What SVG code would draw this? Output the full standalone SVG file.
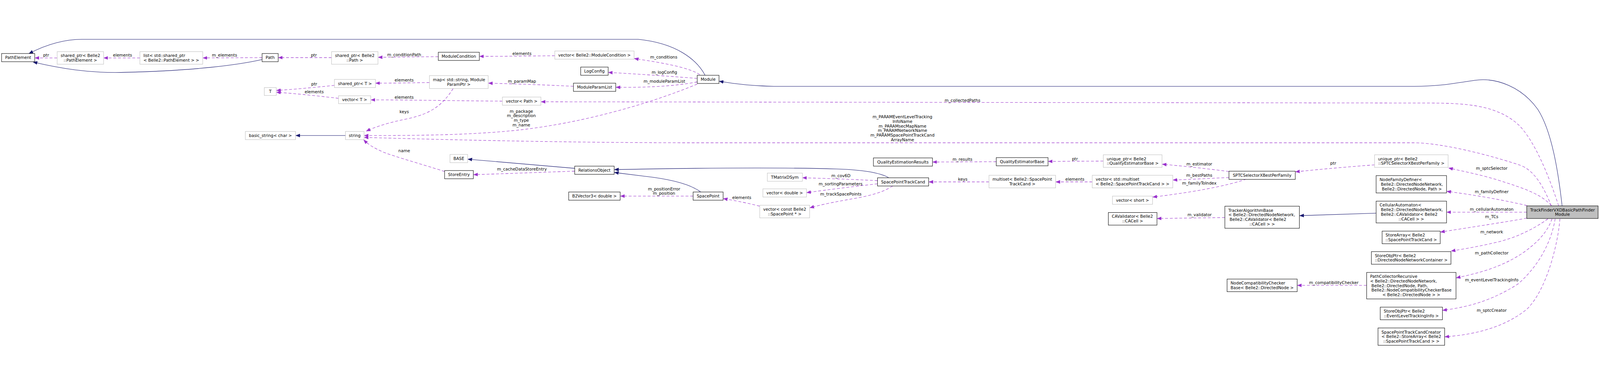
<svg xmlns="http://www.w3.org/2000/svg" width="5067" height="984" viewBox="0 0 5067 984" style="width:100vw;height:100vh;display:block">
<style>
text{font-family:"DejaVu Sans","Liberation Sans",sans-serif;font-size:13px;fill:#000}
.c{text-anchor:middle}
.s{text-anchor:start}
.nb{fill:#fff;stroke:#000;stroke-width:1.3}
.ng{fill:#fff;stroke:#bfbfbf;stroke-width:1.3}
.nt{fill:#bfbfbf;stroke:#000;stroke-width:1.3}
.ei{fill:none;stroke:#191970;stroke-width:1.3}
.eu{fill:none;stroke:#9a32cd;stroke-width:1.3;stroke-dasharray:9,6}
</style>
<defs>
<marker id="ai" markerUnits="userSpaceOnUse" markerWidth="14" markerHeight="12" viewBox="0 0 14 12" refX="13" refY="6" orient="auto"><path d="M0,1 L13,6 L0,11 z" fill="#191970" stroke="#191970" stroke-width="1"/></marker>
<marker id="au" markerUnits="userSpaceOnUse" markerWidth="14" markerHeight="12" viewBox="0 0 14 12" refX="13" refY="6" orient="auto"><path d="M0,1 L13,6 L0,11 z" fill="#9a32cd" stroke="#9a32cd" stroke-width="1"/></marker>
</defs>
<rect width="5067" height="984" fill="#fff"/>
<g id="edges">
<g id="e_module_pathelement"><path class="ei" marker-end="url(#ai)" d="M2233,122 C2205,70 2140,20 2021,8 L260,8 C200,8 140,28 92,53"/></g>
<g id="e_path_pathelement"><path class="ei" marker-end="url(#ai)" d="M830,72 C760,88 620,108 383,113 C280,115 190,100 105,80"/></g>
<g id="e_target_module"><path class="ei" marker-end="url(#ai)" d="M4947,536 C4935,430 4915,300 4870,230 C4820,160 4740,128 4671,138 C4600,148 4560,157 4480,157 L2450,157 C2380,156 2330,150 2278,141"/></g>
<g id="e_string_basic_string"><path class="ei" marker-end="url(#ai)" d="M1094,313 L937,313"/></g>
<g id="e_relobj_base"><path class="ei" marker-end="url(#ai)" d="M1820,417 L1482,388"/></g>
<g id="e_spacepoint_relobj"><path class="ei" marker-end="url(#ai)" d="M2219,492 C2190,470 2130,452 2040,442 C2000,437 1975,434 1946,430"/></g>
<g id="e_sptc_relobj"><path class="ei" marker-end="url(#ai)" d="M2815,447 C2790,432 2740,422 2650,419 C2450,413 2200,416 1946,421"/></g>
<g id="e_ca_tab"><path class="ei" marker-end="url(#ai)" d="M4358,559 L4116,567"/></g>

<g id="e_spe_pe"><path class="eu" marker-end="url(#au)" d="M181,67 L111,67"/><text class="c" x="146" y="62.5">ptr</text></g>
<g id="e_list_spe"><path class="eu" marker-end="url(#au)" d="M443,67 L329,67"/><text class="c" x="388" y="62.5">elements</text></g>
<g id="e_path_list"><path class="eu" marker-end="url(#au)" d="M830,66 L643,67"/><text class="c" x="711" y="62.5">m_elements</text></g>
<g id="e_sp_path"><path class="eu" marker-end="url(#au)" d="M1050,66 L882,66"/><text class="c" x="994" y="62.5">ptr</text></g>
<g id="e_mc_sp"><path class="eu" marker-end="url(#au)" d="M1388,63 L1198,65"/><text class="c" x="1280" y="61.5">m_conditionPath</text></g>
<g id="e_vmc_mc"><path class="eu" marker-end="url(#au)" d="M1757,60 C1680,61 1600,62 1519,62"/><text class="c" x="1653" y="57.5">elements</text></g>
<g id="e_module_vmc"><path class="eu" marker-end="url(#au)" d="M2216,120 C2180,95 2080,80 2009,69"/><text class="c" x="2102" y="69.5">m_conditions</text></g>
<g id="e_module_log"><path class="eu" marker-end="url(#au)" d="M2208,132 C2120,125 2020,118 1927,113"/><text class="c" x="2104" y="117.5">m_logConfig</text></g>
<g id="e_module_mpl"><path class="eu" marker-end="url(#au)" d="M2208,143 C2130,158 2040,161 1951,160"/><text class="c" x="2104" y="145.5">m_moduleParamList</text></g>
<g id="e_mpl_map"><path class="eu" marker-end="url(#au)" d="M1816,157 C1720,152 1620,149 1547,147"/><text class="c" x="1653" y="145.5">m_paramMap</text></g>
<g id="e_map_spt"><path class="eu" marker-end="url(#au)" d="M1360,145 C1300,146 1240,147 1190,147"/><text class="c" x="1280" y="142.5">elements</text></g>
<g id="e_map_string"><path class="eu" marker-end="url(#au)" d="M1435,164 C1400,220 1360,245 1290,260 C1230,272 1190,285 1160,299"/><text class="c" x="1280" y="241.5">keys</text></g>
<g id="e_spt_t"><path class="eu" marker-end="url(#au)" d="M1059,154 C1000,160 940,166 876,170"/><text class="c" x="995" y="154.5">ptr</text></g>
<g id="e_vt_t"><path class="eu" marker-end="url(#au)" d="M1072,195 C1010,188 940,180 876,176"/><text class="c" x="995" y="179.5">elements</text></g>
<g id="e_vpath_vt"><path class="eu" marker-end="url(#au)" d="M1591,204 C1450,203 1300,200 1175,200"/><text class="c" x="1280" y="196.5">elements</text></g>
<g id="e_target_vpath"><path class="eu" marker-end="url(#au)" d="M4936,536 C4905,440 4860,330 4810,280 C4740,215 4640,210 4517,210 L1714,206"/><text class="c" x="3048" y="206.5">m_collectedPaths</text></g>
<g id="e_module_string"><path class="eu" marker-end="url(#au)" d="M2208,150 C2050,215 1850,270 1665,293 C1500,313 1300,313 1154,313"/><text class="c" x="1651" y="240.5">m_package</text><text class="c" x="1651" y="255">m_description</text><text class="c" x="1651" y="269.5">m_type</text><text class="c" x="1651" y="284">m_name</text></g>
<g id="e_target_string"><path class="eu" marker-end="url(#au)" d="M4913,536 C4890,480 4860,420 4808,405 C4700,370 4560,336 4477,336 L2200,336 C1800,336 1400,326 1154,319"/><text class="c" x="2858" y="258.5">m_PARAMEventLevelTracking</text><text class="c" x="2858" y="273">InfoName</text><text class="c" x="2858" y="287.5">m_PARAMsecMapName</text><text class="c" x="2858" y="302">m_PARAMNetworkName</text><text class="c" x="2858" y="316.5">m_PARAMSpacePointTrackCand</text><text class="c" x="2858" y="331">ArrayName</text></g>
<g id="e_storeentry_string"><path class="eu" marker-end="url(#au)" d="M1408,427 C1340,405 1250,380 1215,366 C1190,355 1170,345 1152,327"/><text class="c" x="1280" y="365.5">name</text></g>
<g id="e_relobj_storeentry"><path class="eu" marker-end="url(#au)" d="M1820,426 C1700,430 1600,434 1500,437"/><text class="c" x="1653" y="424.5">m_cacheDataStoreEntry</text></g>
<g id="e_spacepoint_b2v"><path class="eu" marker-end="url(#au)" d="M2195,505 L1965,505"/><text class="c" x="2103" y="486.5">m_positionError</text><text class="c" x="2103" y="501">m_position</text></g>
<g id="e_vcsp_spacepoint"><path class="eu" marker-end="url(#au)" d="M2406,537 C2360,525 2320,518 2291,513"/><text class="c" x="2349" y="514.5">elements</text></g>
<g id="e_sptc_tmat"><path class="eu" marker-end="url(#au)" d="M2779,456 C2700,452 2620,449 2542,447"/><text class="c" x="2663" y="444.5">m_cov6D</text></g>
<g id="e_sptc_vd"><path class="eu" marker-end="url(#au)" d="M2779,466 C2700,475 2620,485 2555,494"/><text class="c" x="2662" y="471.5">m_sortingParameters</text></g>
<g id="e_sptc_vcsp"><path class="eu" marker-end="url(#au)" d="M2827,473 C2800,490 2770,500 2720,510 C2650,522 2600,532 2565,542"/><text class="c" x="2663" y="503.5">m_trackSpacePoints</text></g>
<g id="e_qeb_qer"><path class="eu" marker-end="url(#au)" d="M3155,396 L2954,397"/><text class="c" x="3048" y="392.5">m_results</text></g>
<g id="e_uqeb_qeb"><path class="eu" marker-end="url(#au)" d="M3494,394 L3320,395"/><text class="c" x="3404" y="391.5">ptr</text></g>
<g id="e_ms_sptc"><path class="eu" marker-end="url(#au)" d="M3132,460 L2942,460"/><text class="c" x="3049" y="456.5">keys</text></g>
<g id="e_vms_ms"><path class="eu" marker-end="url(#au)" d="M3459,460 L3344,460"/><text class="c" x="3404" y="456.5">elements</text></g>
<g id="e_sel_uqeb"><path class="eu" marker-end="url(#au)" d="M3892,427 C3820,418 3750,410 3681,404"/><text class="c" x="3798" y="407.5">m_estimator</text></g>
<g id="e_sel_vms"><path class="eu" marker-end="url(#au)" d="M3892,446 C3830,449 3770,452 3715,454"/><text class="c" x="3798" y="443.5">m_bestPaths</text></g>
<g id="e_sel_vshort"><path class="eu" marker-end="url(#au)" d="M3947,451 C3880,475 3760,495 3651,508"/><text class="c" x="3798" y="468.5">m_familyToIndex</text></g>
<g id="e_usel_sel"><path class="eu" marker-end="url(#au)" d="M4353,406 C4270,412 4180,420 4103,428"/><text class="c" x="4222" y="405.5">ptr</text></g>
<g id="e_tab_cav"><path class="eu" marker-end="url(#au)" d="M3879,573 C3800,574 3730,575 3665,576"/><text class="c" x="3799" y="568.5">m_validator</text></g>
<g id="e_target_usel"><path class="eu" marker-end="url(#au)" d="M4913,535 C4880,500 4840,485 4753,457 C4690,437 4640,428 4588,416"/><text class="c" x="4724" y="421.5">m_sptcSelector</text></g>
<g id="e_target_nfd"><path class="eu" marker-end="url(#au)" d="M4836,535 C4750,515 4660,500 4582,490"/><text class="c" x="4724" y="495.5">m_familyDefiner</text></g>
<g id="e_target_ca"><path class="eu" marker-end="url(#au)" d="M4835,556 L4582,556"/><text class="c" x="4724" y="551.5">m_cellularAutomaton</text></g>
<g id="e_target_sa"><path class="eu" marker-end="url(#au)" d="M4835,575 C4750,590 4650,605 4562,619"/><text class="c" x="4724" y="575.5">m_TCs</text></g>
<g id="e_target_dnnc"><path class="eu" marker-end="url(#au)" d="M4902,577 C4850,615 4790,640 4737,652 C4680,665 4640,672 4596,679"/><text class="c" x="4724" y="623.5">m_network</text></g>
<g id="e_target_pcr"><path class="eu" marker-end="url(#au)" d="M4915,577 C4900,620 4870,650 4830,680 C4760,730 4680,750 4612,764"/><text class="c" x="4724" y="689.5">m_pathCollector</text></g>
<g id="e_target_elti"><path class="eu" marker-end="url(#au)" d="M4925,577 C4915,640 4880,720 4808,783 C4720,840 4640,858 4569,867"/><text class="c" x="4724" y="775.5">m_eventLevelTrackingInfo</text></g>
<g id="e_target_creator"><path class="eu" marker-end="url(#au)" d="M4940,577 C4935,650 4900,800 4836,863 C4760,925 4660,945 4576,951"/><text class="c" x="4724" y="871.5">m_sptcCreator</text></g>
<g id="e_pcr_ncc"><path class="eu" marker-end="url(#au)" d="M4328,788 L4109,788"/><text class="c" x="4224" y="784">m_compatibilityChecker</text></g>
</g>

<g id="n_PathElement"><rect class="nb" x="5" y="53" width="105" height="26"/><text class="c" x="57.5" y="70.5">PathElement</text></g>
<g id="n_shared_ptr_PathElement"><rect class="ng" x="181" y="47" width="147" height="40"/><text class="s" x="192" y="64.25">shared_ptr&lt; Belle2</text><text class="c" x="254.5" y="78.75">::PathElement &gt;</text></g>
<g id="n_list_shared_ptr"><rect class="ng" x="443" y="47" width="199" height="40"/><text class="s" x="454" y="64.25">list&lt; std::shared_ptr</text><text class="c" x="542.5" y="78.75">&lt; Belle2::PathElement &gt; &gt;</text></g>
<g id="n_Path"><rect class="nb" x="830" y="53" width="51" height="26"/><text class="c" x="855.5" y="70.5">Path</text></g>
<g id="n_shared_ptr_Path"><rect class="ng" x="1050" y="47" width="147" height="40"/><text class="s" x="1061" y="64.25">shared_ptr&lt; Belle2</text><text class="c" x="1123.5" y="78.75">::Path &gt;</text></g>
<g id="n_ModuleCondition"><rect class="nb" x="1388" y="49" width="130" height="26"/><text class="c" x="1453" y="66.5">ModuleCondition</text></g>
<g id="n_vector_ModuleCondition"><rect class="ng" x="1757" y="45" width="251" height="26"/><text class="c" x="1882.5" y="62.5">vector&lt; Belle2::ModuleCondition &gt;</text></g>
<g id="n_LogConfig"><rect class="nb" x="1839" y="96" width="87" height="26"/><text class="c" x="1882.5" y="113.5">LogConfig</text></g>
<g id="n_ModuleParamList"><rect class="nb" x="1816" y="147" width="134" height="26"/><text class="c" x="1883" y="164.5">ModuleParamList</text></g>
<g id="n_Module"><rect class="nb" x="2208" y="122" width="69" height="26"/><text class="c" x="2242.5" y="139.5">Module</text></g>
<g id="n_map"><rect class="ng" x="1360" y="123" width="186" height="41"/><text class="s" x="1371" y="140.75">map&lt; std::string, Module</text><text class="c" x="1453" y="155.25">ParamPtr &gt;</text></g>
<g id="n_shared_ptr_T"><rect class="ng" x="1059" y="135" width="130" height="26"/><text class="c" x="1124" y="152.5">shared_ptr&lt; T &gt;</text></g>
<g id="n_T"><rect class="ng" x="837" y="161" width="38" height="25"/><text class="c" x="856" y="178">T</text></g>
<g id="n_vector_T"><rect class="ng" x="1072" y="187" width="102" height="25"/><text class="c" x="1123" y="204">vector&lt; T &gt;</text></g>
<g id="n_vector_Path"><rect class="ng" x="1591" y="191" width="122" height="26"/><text class="c" x="1652" y="208.5">vector&lt; Path &gt;</text></g>
<g id="n_basic_string"><rect class="ng" x="777" y="300" width="159" height="26"/><text class="c" x="856.5" y="317.5">basic_string&lt; char &gt;</text></g>
<g id="n_string"><rect class="ng" x="1094" y="300" width="59" height="26"/><text class="c" x="1123.5" y="317.5">string</text></g>
<g id="n_BASE"><rect class="ng" x="1425" y="373" width="56" height="26"/><text class="c" x="1453" y="390.5">BASE</text></g>
<g id="n_StoreEntry"><rect class="nb" x="1408" y="424" width="91" height="26"/><text class="c" x="1453.5" y="441.5">StoreEntry</text></g>
<g id="n_RelationsObject"><rect class="nb" x="1820" y="410" width="125" height="26"/><text class="c" x="1882.5" y="427.5">RelationsObject</text></g>
<g id="n_B2Vector3"><rect class="nb" x="1801" y="492" width="163" height="26"/><text class="c" x="1882.5" y="509.5">B2Vector3&lt; double &gt;</text></g>
<g id="n_SpacePoint"><rect class="nb" x="2195" y="492" width="95" height="26"/><text class="c" x="2242.5" y="509.5">SpacePoint</text></g>
<g id="n_TMatrixDSym"><rect class="ng" x="2430" y="432" width="111" height="26"/><text class="c" x="2485.5" y="449.5">TMatrixDSym</text></g>
<g id="n_vector_double"><rect class="ng" x="2416" y="482" width="138" height="26"/><text class="c" x="2485" y="499.5">vector&lt; double &gt;</text></g>
<g id="n_vector_const_SpacePoint"><rect class="ng" x="2406" y="534" width="158" height="40"/><text class="s" x="2417" y="551.25">vector&lt; const Belle2</text><text class="c" x="2485" y="565.75">::SpacePoint * &gt;</text></g>
<g id="n_QualityEstimationResults"><rect class="nb" x="2766" y="384" width="187" height="26"/><text class="c" x="2859.5" y="401.5">QualityEstimationResults</text></g>
<g id="n_SpacePointTrackCand"><rect class="nb" x="2779" y="447" width="162" height="26"/><text class="c" x="2860" y="464.5">SpacePointTrackCand</text></g>
<g id="n_QualityEstimatorBase"><rect class="nb" x="3155" y="383" width="164" height="26"/><text class="c" x="3237" y="400.5">QualityEstimatorBase</text></g>
<g id="n_multiset"><rect class="ng" x="3132" y="439" width="211" height="40"/><text class="s" x="3143" y="456.25">multiset&lt; Belle2::SpacePoint</text><text class="c" x="3237.5" y="470.75">TrackCand &gt;</text></g>
<g id="n_unique_ptr_QEB"><rect class="ng" x="3494" y="374" width="186" height="40"/><text class="s" x="3505" y="391.25">unique_ptr&lt; Belle2</text><text class="c" x="3587" y="405.75">::QualityEstimatorBase &gt;</text></g>
<g id="n_vector_multiset"><rect class="ng" x="3459" y="439" width="255" height="40"/><text class="s" x="3470" y="456.25">vector&lt; std::multiset</text><text class="c" x="3586.5" y="470.75">&lt; Belle2::SpacePointTrackCand &gt; &gt;</text></g>
<g id="n_vector_short"><rect class="ng" x="3523" y="505" width="127" height="26"/><text class="c" x="3586.5" y="522.5">vector&lt; short &gt;</text></g>
<g id="n_CAValidator"><rect class="nb" x="3510" y="557" width="154" height="40"/><text class="s" x="3521" y="574.25">CAValidator&lt; Belle2</text><text class="c" x="3587" y="588.75">::CACell &gt;</text></g>
<g id="n_SPTCSelector"><rect class="nb" x="3892" y="426" width="210" height="26"/><text class="c" x="3997" y="443.5">SPTCSelectorXBestPerFamily</text></g>
<g id="n_TrackerAlgorithmBase"><rect class="nb" x="3879" y="537" width="236" height="70"/><text class="s" x="3890" y="554.75">TrackerAlgorithmBase</text><text class="s" x="3890" y="569.25">&lt; Belle2::DirectedNodeNetwork,</text><text class="s" x="3894" y="583.75">Belle2::CAValidator&lt; Belle2</text><text class="c" x="3997" y="598.25">::CACell &gt; &gt;</text></g>
<g id="n_NodeCompatibilityCheckerBase"><rect class="nb" x="3886" y="768" width="222" height="40"/><text class="s" x="3897" y="785.25">NodeCompatibilityChecker</text><text class="c" x="3997" y="799.75">Base&lt; Belle2::DirectedNode &gt;</text></g>
<g id="n_unique_ptr_SPTCSelector"><rect class="ng" x="4353" y="374" width="233" height="40"/><text class="s" x="4364" y="391.25">unique_ptr&lt; Belle2</text><text class="c" x="4469.5" y="405.75">::SPTCSelectorXBestPerFamily &gt;</text></g>
<g id="n_NodeFamilyDefiner"><rect class="nb" x="4358" y="440" width="223" height="55"/><text class="s" x="4369" y="457.5">NodeFamilyDefiner&lt;</text><text class="s" x="4373" y="472">Belle2::DirectedNodeNetwork,</text><text class="c" x="4471" y="486.5">Belle2::DirectedNode, Path &gt;</text></g>
<g id="n_CellularAutomaton"><rect class="nb" x="4358" y="521" width="223" height="69"/><text class="s" x="4369" y="538.25">CellularAutomaton&lt;</text><text class="s" x="4373" y="552.75">Belle2::DirectedNodeNetwork,</text><text class="s" x="4373" y="567.25">Belle2::CAValidator&lt; Belle2</text><text class="c" x="4469.5" y="581.75">::CACell &gt; &gt;</text></g>
<g id="n_StoreArray"><rect class="nb" x="4377" y="616" width="184" height="40"/><text class="s" x="4388" y="633.25">StoreArray&lt; Belle2</text><text class="c" x="4469" y="647.75">::SpacePointTrackCand &gt;</text></g>
<g id="n_StoreObjPtr_DNNC"><rect class="nb" x="4343" y="681" width="252" height="40"/><text class="s" x="4354" y="698.25">StoreObjPtr&lt; Belle2</text><text class="c" x="4469" y="712.75">::DirectedNodeNetworkContainer &gt;</text></g>
<g id="n_PathCollectorRecursive"><rect class="nb" x="4328" y="747" width="283" height="84"/><text class="s" x="4339" y="764.5">PathCollectorRecursive</text><text class="s" x="4339" y="779">&lt; Belle2::DirectedNodeNetwork,</text><text class="s" x="4343" y="793.5">Belle2::DirectedNode, Path,</text><text class="s" x="4343" y="808">Belle2::NodeCompatibilityCheckerBase</text><text class="c" x="4469.5" y="822.5">&lt; Belle2::DirectedNode &gt; &gt;</text></g>
<g id="n_StoreObjPtr_ELTI"><rect class="nb" x="4371" y="857" width="197" height="40"/><text class="s" x="4382" y="874.25">StoreObjPtr&lt; Belle2</text><text class="c" x="4469.5" y="888.75">::EventLevelTrackingInfo &gt;</text></g>
<g id="n_SpacePointTrackCandCreator"><rect class="nb" x="4364" y="923" width="211" height="55"/><text class="s" x="4375" y="940.5">SpacePointTrackCandCreator</text><text class="s" x="4375" y="955">&lt; Belle2::StoreArray&lt; Belle2</text><text class="c" x="4469.5" y="969.5">::SpacePointTrackCand &gt; &gt;</text></g>
<g id="n_TrackFinderVXDBasicPathFinderModule"><rect class="nt" x="4835" y="536" width="226" height="40"/><text class="s" x="4846" y="553.25">TrackFinderVXDBasicPathFinder</text><text class="c" x="4948" y="567.75">Module</text></g>
</svg>
